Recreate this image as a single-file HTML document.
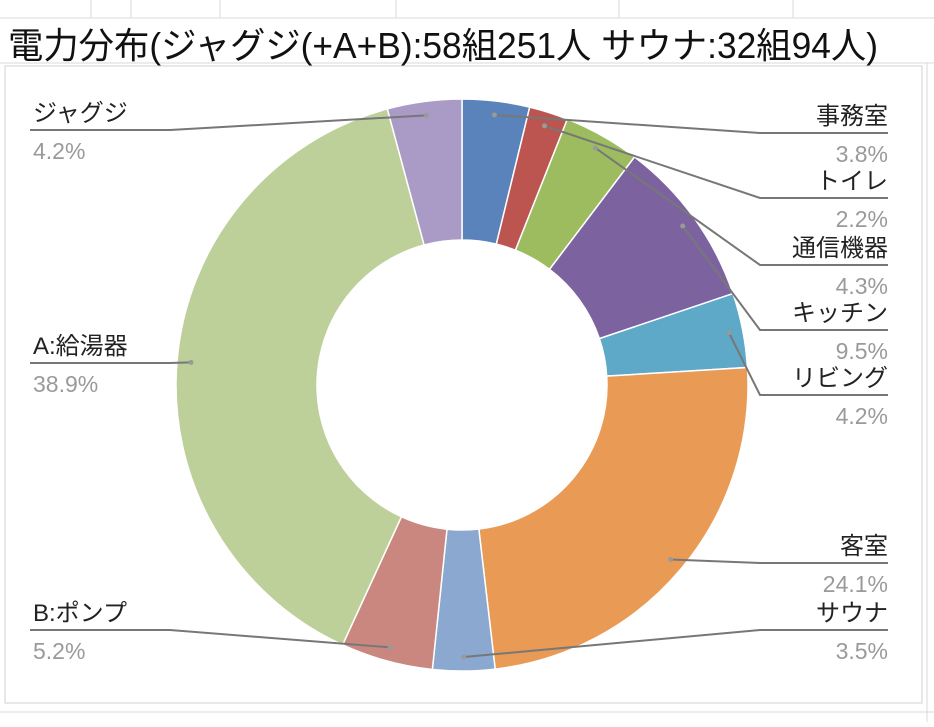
<!DOCTYPE html>
<html><head><meta charset="utf-8"><style>
body{margin:0;background:#fff;width:934px;height:722px;overflow:hidden;font-family:"Liberation Sans","Noto Sans CJK JP",sans-serif}
</style></head><body>
<svg width="934" height="722" font-family="'Liberation Sans','Noto Sans CJK JP',sans-serif">
<g stroke="#d8d8d8" stroke-width="1">
<line x1="0" y1="18" x2="934" y2="18"/><line x1="0" y1="63" x2="934" y2="63"/><line x1="0" y1="712" x2="934" y2="712"/>
<line x1="91" y1="0" x2="91" y2="18"/><line x1="131" y1="0" x2="131" y2="18"/><line x1="220" y1="0" x2="220" y2="18"/><line x1="396" y1="0" x2="396" y2="18"/><line x1="619" y1="0" x2="619" y2="18"/><line x1="793" y1="0" x2="793" y2="18"/>
<line x1="927" y1="63" x2="927" y2="722"/>
</g>
<text x="8" y="58" font-size="36" fill="#111" textLength="870" lengthAdjust="spacingAndGlyphs">電力分布(ジャグジ(+A+B):58組251人 サウナ:32組94人)</text>
<rect x="5" y="66" width="917" height="637" fill="#fff" stroke="#d0d0d0"/>
<g id="slices"></g><g id="labels"></g>
</svg>
<script>
const categories=["事務室","トイレ","通信機器","キッチン","リビング","客室","サウナ","B:ポンプ","A:給湯器","ジャグジ"];
const values=[3.8,2.2,4.3,9.5,4.2,24.1,3.5,5.2,38.9,4.2];
const colors=["#5a82bb","#bc5450","#9dbb5f","#7c63a0","#5ea8c8","#e99a55","#8aa8d0","#c98780","#bdd09a","#a99bc5"];
const cx=462,cy=385,R=286,r=145,NS="http://www.w3.org/2000/svg";
const total=values.reduce((a,b)=>a+b,0);
const sl=document.getElementById('slices'),lb=document.getElementById('labels');
function pt(a,rad){return [cx+rad*Math.sin(a),cy-rad*Math.cos(a)];}
const rightY=[124,189,256,321,386,554,621];
const leftY={"B:ポンプ":621,"A:給湯器":354,"ジャグジ":121};
let acc=0,ri=0;
values.forEach((v,i)=>{
 const a0=acc/total*2*Math.PI,a1=(acc+v)/total*2*Math.PI;acc+=v;
 const big=a1-a0>Math.PI?1:0;
 const [x0,y0]=pt(a0,R),[x1,y1]=pt(a1,R),[x2,y2]=pt(a1,r),[x3,y3]=pt(a0,r);
 const p=document.createElementNS(NS,'path');
 p.setAttribute('d',`M${x0},${y0}A${R},${R} 0 ${big} 1 ${x1},${y1}L${x2},${y2}A${r},${r} 0 ${big} 0 ${x3},${y3}Z`);
 p.setAttribute('fill',colors[i]);p.setAttribute('stroke','#fff');p.setAttribute('stroke-width','1.5');
 
 
 sl.appendChild(p);
 const am=(a0+a1)/2,[dx,dy]=pt(am,272);
 const isRight=Math.sin(am)>0&&i<7;
 const by=isRight?rightY[ri++]:leftY[categories[i]];
 const ly=by+9;
 const g=document.createElementNS(NS,'g');
 
 
 const pl=document.createElementNS(NS,'polyline');
 pl.setAttribute('points',isRight?`${dx},${dy} 760,${ly} 888,${ly}`:`${dx},${dy} 170,${ly} 30,${ly}`);
 pl.setAttribute('fill','none');pl.setAttribute('stroke','#777');pl.setAttribute('stroke-width','2');
 g.appendChild(pl);
 const c=document.createElementNS(NS,'circle');c.setAttribute('cx',dx);c.setAttribute('cy',dy);c.setAttribute('r',2.5);c.setAttribute('fill','#999');g.appendChild(c);
 const t=document.createElementNS(NS,'text');t.textContent=categories[i];
 t.setAttribute('x',isRight?888:33);t.setAttribute('y',by);t.setAttribute('font-size','24');t.setAttribute('fill','#222');
 t.setAttribute('text-anchor',isRight?'end':'start');g.appendChild(t);
 const t2=document.createElementNS(NS,'text');t2.textContent=v.toFixed(1)+'%';
 t2.setAttribute('x',isRight?888:33);t2.setAttribute('y',by+38);t2.setAttribute('font-size','23');t2.setAttribute('fill','#9a9a9a');
 t2.setAttribute('text-anchor',isRight?'end':'start');g.appendChild(t2);
 lb.appendChild(g);
});
</script>
</body></html>
